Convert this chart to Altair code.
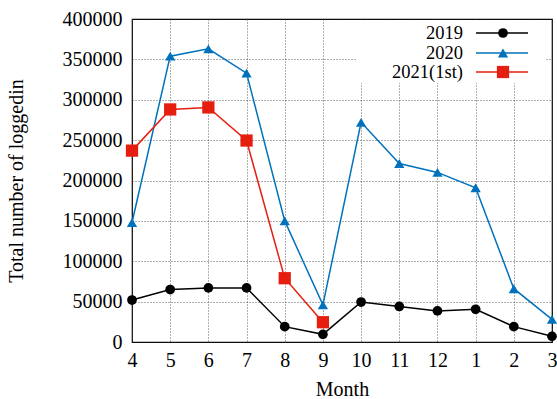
import altair as alt
import pandas as pd

# Fiscal-year months, April through March
months = ["4", "5", "6", "7", "8", "9", "10", "11", "12", "1", "2", "3"]

logins_2019 = [52000, 65000, 67000, 67000, 19000, 9500, 49500, 44000, 38500, 40500, 19000, 7000]
logins_2020 = [148000, 354000, 363000, 333000, 150000, 46000, 272000, 221000, 210000, 191000, 66000, 28000]
logins_2021 = [237000, 288000, 290500, 249500, 79000, 24500]

series_names = ["2019", "2020", "2021(1st)"]
series_colors = ["#000000", "#0072BD", "#E51E10"]
series_shapes = ["circle", "triangle-up", "square"]
series_sizes = [95, 105, 150]
y_ticks = [0, 50000, 100000, 150000, 200000, 250000, 300000, 350000, 400000]

FONT = "Liberation Serif"
W, H = 420, 323

rows = []
for name, vals in zip(series_names, [logins_2019, logins_2020, logins_2021]):
    for m, v in zip(months, vals):
        rows.append({"month": m, "value": v, "series": name})
df = pd.DataFrame(rows)

x_enc = alt.X(
    "month:O",
    sort=months,
    scale=alt.Scale(type="point", domain=months, padding=0),
    axis=alt.Axis(title="Month", labelAngle=0, labelPadding=8, titlePadding=9),
)
y_enc = alt.Y(
    "value:Q",
    scale=alt.Scale(domain=[0, 400000], nice=False),
    axis=alt.Axis(title="Total number of loggedin", values=y_ticks, format="d",
                  labelPadding=10, titlePadding=36),
)

base = alt.Chart(df)

# White box behind the key
key_bg = alt.Chart(pd.DataFrame({"k": [0]})).mark_rect(color="white").encode(
    x=alt.value(224), x2=alt.value(413), y=alt.value(1), y2=alt.value(64)
)

layers = [key_bg]
for i, name in enumerate(series_names):
    sub = base.transform_filter(alt.datum.series == name)
    layers.append(
        sub.mark_line(color=series_colors[i], strokeWidth=1.5).encode(x=x_enc, y=y_enc)
    )
    layers.append(
        sub.mark_point(
            shape=series_shapes[i], filled=True, opacity=1,
            color=series_colors[i], size=series_sizes[i],
        ).encode(x=x_enc, y=y_enc)
    )

# Key entries: label, line segment and symbol
key_rows = [14, 34, 53]
for i, name in enumerate(series_names):
    kd = alt.Chart(pd.DataFrame({"label": [name]}))
    layers.append(
        kd.mark_text(align="right", baseline="middle", font=FONT, fontSize=18.5, color="#000").encode(
            text="label:N", x=alt.value(331), y=alt.value(key_rows[i])
        )
    )
    layers.append(
        kd.mark_rule(color=series_colors[i], strokeWidth=1.5).encode(
            x=alt.value(344), x2=alt.value(396), y=alt.value(key_rows[i])
        )
    )
    layers.append(
        kd.mark_point(
            shape=series_shapes[i], filled=True, opacity=1,
            color=series_colors[i], size=series_sizes[i],
        ).encode(x=alt.value(371), y=alt.value(key_rows[i]))
    )

chart = (
    alt.layer(*layers)
    .properties(
        width=W, height=H,
        autosize=alt.AutoSizeParams(type="none"),
        padding={"left": 132, "top": 19, "right": 5, "bottom": 57},
        background="white",
    )
    .configure_view(stroke="#000", strokeWidth=1.2)
    .configure_axis(
        grid=True, gridDash=[1, 2], gridColor="#333", gridWidth=0.8,
        domain=False, ticks=False,
        labelFont=FONT, labelFontSize=20, labelColor="#000",
        titleFont=FONT, titleFontSize=20, titleFontWeight="normal", titleColor="#000",
    )
)

chart.save("out.html", embed_options={"renderer": "svg", "actions": False})
